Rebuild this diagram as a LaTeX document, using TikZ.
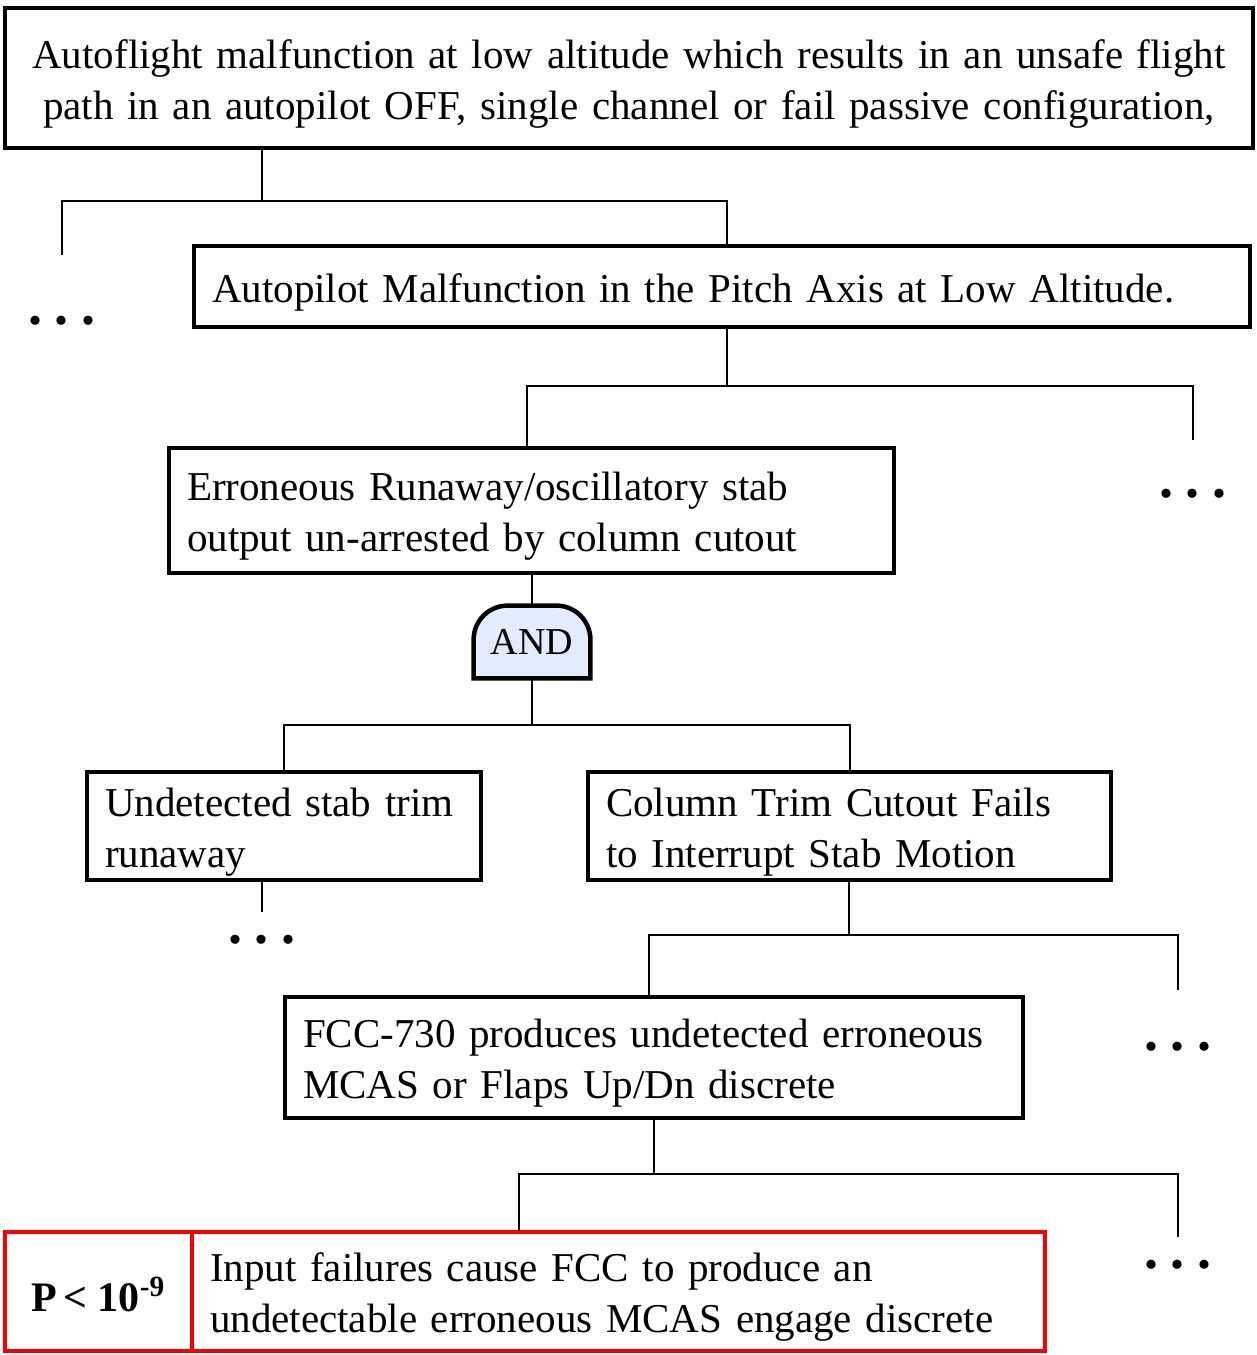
\documentclass[tikz,border=0pt]{standalone}
\usepackage{fontspec}
\setmainfont{Liberation Serif}
\usetikzlibrary{positioning,calc,backgrounds}
\definecolor{gateblue}{RGB}{225,236,253}
\definecolor{probred}{RGB}{250,0,0}
\tikzset{
  evt/.style    ={draw=black, line width=2.25pt, align=left, inner xsep=9pt, inner ysep=0pt,
                  font=\fontsize{20.5}{25.5}\selectfont, execute at begin node={\rule{0pt}{20pt}}},
  probbox/.style={evt, draw=probred, line width=2pt},
  gatebox/.style={draw=black, line width=2.25pt, fill=gateblue},
  gate/.style   ={inner sep=0pt, minimum width=58pt, minimum height=36pt, font=\fontsize{19}{20}\selectfont},
  link/.style   ={draw=black, line width=1pt},
  more/.style   ={inner sep=0pt, font=\fontsize{28}{30}\selectfont\bfseries},
}

\begin{document}
\begin{tikzpicture}[x=0.5pt,y=-0.5pt]
\useasboundingbox (0,0) rectangle (1257,1355);
% events
\node[evt, align=center, inner xsep=2pt, text width=620pt, minimum height=70pt] (top) at (629,78)
  {Autoflight malfunction at low altitude which results in an unsafe flight\\
   path in an autopilot OFF, single channel or fail passive configuration,};
\node[evt, text width=510pt, minimum height=40.5pt] (pitch) at (722,286.5)
  {Autopilot Malfunction in the Pitch Axis at Low Altitude.};
\node[evt, text width=344.5pt, minimum height=62.5pt] (runaway) at (531.5,510.5)
  {Erroneous Runaway/oscillatory stab\\output un-arrested by column cutout};
\node[gate] (and) at (532,642) {\raisebox{-1.5pt}{AND}};
\node[evt, text width=179pt, minimum height=54pt] (undet) at (284,826)
  {Undetected stab trim\\runaway};
\node[evt, text width=243.5pt, minimum height=54pt] (column) at (849.5,826)
  {Column Trim Cutout Fails\\to Interrupt Stab Motion};
\node[evt, text width=351pt, minimum height=60.5pt] (fcc) at (654,1057.5)
  {FCC-730 produces undetected erroneous\\MCAS or Flaps Up/Dn discrete};
\node[probbox, align=center, inner xsep=0pt, text width=93.5pt, minimum height=59.5pt,
      font=\fontsize{21}{24}\selectfont\bfseries] (prob) at (98.5,1291.5)
  {P\hspace{0.15em}<\hspace{0.25em}10\textsuperscript{-9}};
\node[probbox, text width=408.5pt, minimum height=59.5pt] (input) at (618.5,1291.5)
  {Input failures cause FCC to produce an\\undetectable erroneous MCAS engage discrete};

\begin{scope}[on background layer]
\draw[gatebox] (and.south west) -- ([yshift=-17pt]and.north west)
  arc[start angle=180,end angle=90,radius=17pt] -- ([xshift=-17pt]and.north east)
  arc[start angle=90,end angle=0,radius=17pt] -- (and.south east) -- cycle;
\end{scope}

% undeveloped branches
\foreach \n/\px/\py in {dA/62/321, dB/1193/494, dD/262/940, dE/1178/1047, dF/1178/1265}{
  \node[more] (\n) at (\px,\py) {.\hspace{0.23em}.\hspace{0.23em}.};
}

% top -> pitch
\coordinate (jA) at (262,201);
\coordinate (lA) at (62,201);
\coordinate (rA) at (727,201);
\coordinate (eA) at (62,255);
\draw[link] (top.south -| jA) -- (jA);
\draw[link] (eA) -- (lA) -- (rA) -- (pitch.north -| rA);
% pitch -> runaway
\coordinate (jB) at (727,386);
\coordinate (lB) at (527,386);
\coordinate (rB) at (1193,386);
\coordinate (eB) at (1193,440);
\draw[link] (pitch.south -| jB) -- (jB);
\draw[link] (runaway.north -| lB) -- (lB) -- (rB) -- (eB);
% runaway -> and
\draw[link] (runaway.south -| and.north) -- (and.north);
\coordinate (jC) at (532,725);
\draw[link] (and.south) -- (jC);
\draw[link] (undet.north) |- (jC) -| (column.north);
\coordinate (eD) at (262,912);
\draw[link] (undet.south -| eD) -- (eD);
% column -> fcc
\coordinate (jE) at (849,935);
\coordinate (lE) at (649,935);
\coordinate (rE) at (1178,935);
\coordinate (eE) at (1178,990);
\draw[link] (column.south -| jE) -- (jE);
\draw[link] (fcc.north -| lE) -- (lE) -- (rE) -- (eE);
% fcc -> input
\coordinate (jF) at (654,1174);
\coordinate (lF) at (519,1174);
\coordinate (rF) at (1178,1174);
\coordinate (eF) at (1178,1237);
\draw[link] (fcc.south) -- (jF);
\draw[link] (input.north -| lF) -- (lF) -- (rF) -- (eF);
\end{tikzpicture}
\end{document}
